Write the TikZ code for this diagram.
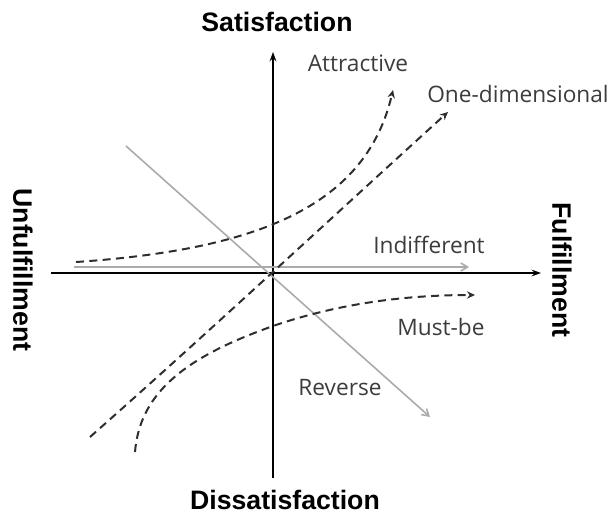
\documentclass[tikz,border=0pt]{standalone}
\usepackage{fontspec}
\setmainfont{Open Sans}
\setsansfont{Liberation Sans}
\usetikzlibrary{arrows.meta, positioning}
\definecolor{curveGray}{HTML}{2E2E2E}
\definecolor{lineGray}{HTML}{ABABAB}
\definecolor{textGray}{HTML}{3C3C3C}
\tikzset{
  axislbl/.style={font=\sffamily\bfseries\fontsize{20}{22}\selectfont, inner sep=0pt},
  typelbl/.style={font=\fontsize{17}{19}\selectfont, text=textGray, inner sep=0pt},
  axisarr/.style={line width=2pt, -{Stealth[length=7pt, width=5pt]}},
}

\begin{document}
\begin{tikzpicture}[
    x=0.75pt, y=-0.75pt,
    curve/.style={curveGray, line width=1.5pt, dash pattern=on 6pt off 4pt,
                  -{Stealth[length=6pt, width=5.5pt]}},
    greyarr/.style={lineGray, line width=1.2pt, -{Straight Barb[length=5pt, width=6pt]}}
]
  \useasboundingbox (0,0) rectangle (612,515);

  % axes
  \coordinate (vbot) at (273,478);
  \coordinate (vtop) at (273,52);
  \coordinate (hleft) at (51,273);
  \coordinate (hright) at (541,273);
  \draw[axisarr] (vbot) -- (vtop);
  \draw[axisarr] (hleft) -- (hright);

  \node[axislbl] (sat) at (277,22) {Satisfaction};
  \node[axislbl] (dissat) at (285,500) {Dissatisfaction};
  \node[axislbl, rotate=-90] (unful) at (23,270) {Unfulfillment};
  \node[axislbl, rotate=-90] (ful) at (562,270) {Fulfillment};

  % grey lines
  \coordinate (ind-s) at (74,267);
  \coordinate (ind-e) at (469,267);
  \coordinate (rev-s) at (126,146);
  \coordinate (rev-e) at (430,417);
  \draw[greyarr] (ind-s) -- (ind-e);
  \draw[greyarr] (rev-s) -- (rev-e);

  % dashed curves
  \coordinate (att-s) at (76,262);
  \coordinate (att-e) at (393,90);
  \coordinate (one-s) at (90,437);
  \coordinate (one-e) at (448,112);
  \coordinate (must-s) at (135,452);
  \coordinate (must-m) at (276,325);
  \coordinate (must-e) at (475,295);
  \draw[curve] (att-s) .. controls (250,250) and (365,210) .. (att-e);
  \draw[curve] (one-s) .. controls (200,340) and (340,210) .. (one-e);
  \draw[curve] (must-s) .. controls (140,390) and (190,355) .. (must-m)
               .. controls (350,300) and (420,295) .. (must-e);

  \node[typelbl] (attractive) at (358,63) {Attractive};
  \node[typelbl] (onedim) at (518,94) {One-dimensional};
  \node[typelbl] (indiff) at (429,245) {Indifferent};
  \node[typelbl] (mustbe) at (441,327) {Must-be};
  \node[typelbl] (reverse) at (340,388) {Reverse};
\end{tikzpicture}
\end{document}
